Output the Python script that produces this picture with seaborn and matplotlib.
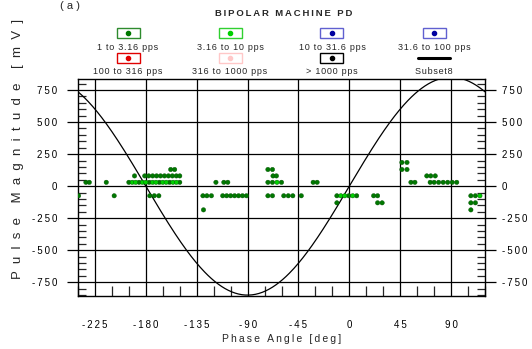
import numpy as np
import pandas as pd
import matplotlib
matplotlib.use("Agg")
import matplotlib.pyplot as plt
from matplotlib.patches import Rectangle
from matplotlib.lines import Line2D
from matplotlib.ticker import MultipleLocator, FuncFormatter
from matplotlib.transforms import ScaledTranslation
import seaborn as sns

# legend entries (two rows of four)
series_names = ["1 to 3.16 pps", "3.16 to 10 pps", "10 to 31.6 pps", "31.6 to 100 pps",
                "100 to 316 pps", "316 to 1000 pps", "> 1000 pps", "Subset8"]
dot_colors = ["#007800", "#00D000", "#0000A0", "#0000A0", "#E00000", "#FFC8C8", "#000000", "#000000"]
box_colors = ["#2E8B2E", "#30D030", "#6060D0", "#6060D0", "#E00000", "#FFC8C8", "#000000", "#000000"]

# 1 to 3.16 pps  (phase deg, magnitude mV)
dark_phase = [-233, -230, -215, -195, -186, -177, -168, -159, -150, -118, -111, -107.5,
              -72, -68, -60, -32, -28.5, 54.5, 58, 71.5, 75, 79, 83, 87, 91, 95,
              -190, -181, -177.5, -174, -170.5, -167, -163.5, -160, -156.5, -153, -150,
              -67.5, -64.5, 68.5, 72, 76,
              -158, -154.5, -72, -68, 46.5, 51,
              46.5, 51,
              -239.5, -208, -176.5, -172.5, -168.5, -129.5, -126, -122, -112, -108.5, -105,
              -101.5, -98, -94.5, -91, -72, -68, -58, -54, -50, -42.5, -11, -0.5, 6.5,
              21.5, 25, 107.5, 111.5,
              -11, 25, 29, 107.5, 111.5,
              -129, 107.5]
dark_mag = [30] * 26 + [80] * 16 + [130] * 6 + [185] * 2 + [-75] * 28 + [-130] * 5 + [-185] * 2

# 3.16 to 10 pps
light_phase = [-192, -189, -183, -180, -174, -171, -165, -162, -156, -153, -64,
               -7.5, -4, 3, 115.5]
light_mag = [30] * 11 + [-75] * 4

# Subset8: reference sine of the test voltage
sine_amp = 850
sine_phase = np.linspace(-240, 120, 361)

df = pd.DataFrame({
    "phase": dark_phase + light_phase,
    "mag": dark_mag + light_mag,
    "series": [series_names[0]] * len(dark_phase) + [series_names[1]] * len(light_phase),
})
sine_df = pd.DataFrame({"phase": sine_phase, "mag": sine_amp * np.sin(np.radians(sine_phase))})

sns.set_style("white")
plt.rcParams["font.family"] = ["Liberation Sans", "DejaVu Sans"]


def spaced(s, gap="\u2009"):
    return gap.join(s)


W, H = 532, 349
fig = plt.figure(figsize=(W / 100, H / 100), dpi=100)
ax = fig.add_axes([78 / W, 1 - 296 / H, (485 - 78) / W, (296 - 78.5) / H])

sns.lineplot(data=sine_df, x="phase", y="mag", color="black", lw=0.9, ax=ax, zorder=3)
sns.scatterplot(data=df, x="phase", y="mag", hue="series",
                palette={series_names[0]: dot_colors[0], series_names[1]: dot_colors[1]},
                s=10, linewidth=0.3, edgecolor="#005000", legend=False, ax=ax, zorder=4)

ax.set_xlim(-240, 120)
ax.set_ylim(-857, 840)
ax.xaxis.set_major_locator(MultipleLocator(45))
ax.xaxis.set_minor_locator(MultipleLocator(15))
ax.yaxis.set_major_locator(MultipleLocator(250))
ax.yaxis.set_minor_locator(MultipleLocator(50))
fmt = FuncFormatter(lambda v, p: spaced(f"{int(v)}"))
ax.xaxis.set_major_formatter(fmt)
ax.yaxis.set_major_formatter(fmt)

ax.grid(True, which="major", color="black", lw=0.9)
for s in ax.spines.values():
    s.set_color("black")
    s.set_linewidth(1.0)

ax.tick_params(axis="x", which="major", direction="out", length=9, width=0.9,
               pad=8, labelsize=7, colors="black")
ax.tick_params(axis="x", which="minor", direction="in", length=7, width=0.9,
               bottom=True, top=False)
ax.tick_params(axis="y", which="major", direction="out", length=8, width=0.9,
               left=True, right=True, labelleft=True, labelright=True,
               pad=7, labelsize=7, colors="black")
ax.tick_params(axis="y", which="minor", direction="in", length=6, width=0.9,
               left=True, right=True)
# right-hand labels sit a little closer to the axis than the left ones
shift = ScaledTranslation(-4 / 100, 0, fig.dpi_scale_trans)
for t in ax.yaxis.get_major_ticks():
    t.label2.set_transform(t.label2.get_transform() + shift)

ax.set_xlabel(spaced("Phase Angle [deg]"), fontsize=7.5, labelpad=3)
ax.set_ylabel("")

ylab = "    ".join("  ".join(w) for w in ["Pulse", "Magnitude", "[mV]"])
fig.text(18 / W, 1 - 279 / H, ylab, rotation=90, fontsize=9.5,
         ha="center", va="bottom")
fig.text(70 / W, 1 - 1 / H, "( a )", fontsize=8, ha="center", va="top")
fig.text(284 / W, 1 - 13 / H, spaced("BIPOLAR MACHINE PD"), fontsize=6.8,
         fontweight="bold", ha="center", va="center")

# legend: marker box above each label
col_x = [128, 230, 332, 434]
row_y = [33, 58]
for i, name in enumerate(series_names):
    cx, cy = col_x[i % 4], row_y[i // 4]
    if name == "Subset8":
        fig.add_artist(Line2D([(cx - 16) / W, (cx + 16) / W], [1 - cy / H] * 2,
                              color="black", lw=2.2))
    else:
        fig.add_artist(Rectangle(((cx - 11.5) / W, 1 - (cy + 5) / H), 23 / W, 10 / H,
                                 fill=False, edgecolor=box_colors[i], lw=1.0))
        fig.add_artist(Line2D([cx / W], [1 - cy / H], marker="o", ms=3.0,
                              color=dot_colors[i], lw=0))
    fig.text(cx / W, 1 - (cy + 14) / H, spaced(name, "\u200a"), fontsize=6.5,
             ha="center", va="center")

fig.savefig("out.png", dpi=100)
